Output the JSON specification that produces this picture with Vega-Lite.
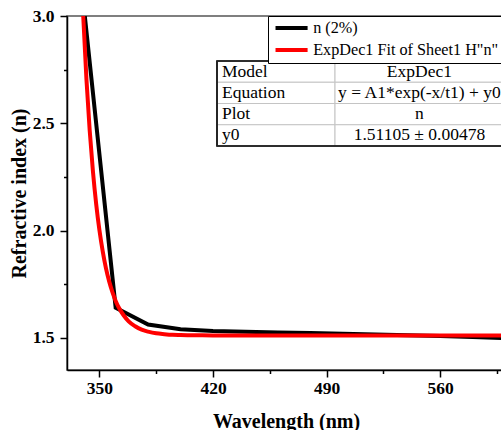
{
  "$schema": "https://vega.github.io/schema/vega-lite/v6.json",
  "width": 438,
  "height": 354,
  "autosize": {"type": "none"},
  "padding": {"left": 67, "top": 16, "right": 0, "bottom": 60},
  "background": "white",
  "datasets": {
    "measured": [
      {"wavelength": 340, "n": 3.07, "series": "n (2%)"},
      {"wavelength": 360, "n": 1.64, "series": "n (2%)"},
      {"wavelength": 380, "n": 1.562, "series": "n (2%)"},
      {"wavelength": 400, "n": 1.54, "series": "n (2%)"},
      {"wavelength": 420, "n": 1.532, "series": "n (2%)"},
      {"wavelength": 440, "n": 1.528, "series": "n (2%)"},
      {"wavelength": 460, "n": 1.525, "series": "n (2%)"},
      {"wavelength": 480, "n": 1.522, "series": "n (2%)"},
      {"wavelength": 500, "n": 1.519, "series": "n (2%)"},
      {"wavelength": 520, "n": 1.515, "series": "n (2%)"},
      {"wavelength": 540, "n": 1.512, "series": "n (2%)"},
      {"wavelength": 560, "n": 1.508, "series": "n (2%)"},
      {"wavelength": 580, "n": 1.504, "series": "n (2%)"},
      {"wavelength": 600, "n": 1.498, "series": "n (2%)"}
    ],
    "fit": [
      {"wavelength": 338, "n": 3.37, "series": "ExpDec1 Fit of Sheet1 H\"n\""},
      {"wavelength": 340, "n": 3.0, "series": "ExpDec1 Fit of Sheet1 H\"n\""},
      {"wavelength": 342, "n": 2.703, "series": "ExpDec1 Fit of Sheet1 H\"n\""},
      {"wavelength": 344, "n": 2.466, "series": "ExpDec1 Fit of Sheet1 H\"n\""},
      {"wavelength": 346, "n": 2.275, "series": "ExpDec1 Fit of Sheet1 H\"n\""},
      {"wavelength": 348, "n": 2.123, "series": "ExpDec1 Fit of Sheet1 H\"n\""},
      {"wavelength": 350, "n": 2.001, "series": "ExpDec1 Fit of Sheet1 H\"n\""},
      {"wavelength": 352, "n": 1.904, "series": "ExpDec1 Fit of Sheet1 H\"n\""},
      {"wavelength": 354, "n": 1.825, "series": "ExpDec1 Fit of Sheet1 H\"n\""},
      {"wavelength": 356, "n": 1.763, "series": "ExpDec1 Fit of Sheet1 H\"n\""},
      {"wavelength": 358, "n": 1.713, "series": "ExpDec1 Fit of Sheet1 H\"n\""},
      {"wavelength": 360, "n": 1.672, "series": "ExpDec1 Fit of Sheet1 H\"n\""},
      {"wavelength": 362, "n": 1.64, "series": "ExpDec1 Fit of Sheet1 H\"n\""},
      {"wavelength": 365, "n": 1.604, "series": "ExpDec1 Fit of Sheet1 H\"n\""},
      {"wavelength": 368, "n": 1.577, "series": "ExpDec1 Fit of Sheet1 H\"n\""},
      {"wavelength": 372, "n": 1.554, "series": "ExpDec1 Fit of Sheet1 H\"n\""},
      {"wavelength": 376, "n": 1.538, "series": "ExpDec1 Fit of Sheet1 H\"n\""},
      {"wavelength": 380, "n": 1.529, "series": "ExpDec1 Fit of Sheet1 H\"n\""},
      {"wavelength": 385, "n": 1.521, "series": "ExpDec1 Fit of Sheet1 H\"n\""},
      {"wavelength": 390, "n": 1.517, "series": "ExpDec1 Fit of Sheet1 H\"n\""},
      {"wavelength": 395, "n": 1.514, "series": "ExpDec1 Fit of Sheet1 H\"n\""},
      {"wavelength": 400, "n": 1.513, "series": "ExpDec1 Fit of Sheet1 H\"n\""},
      {"wavelength": 410, "n": 1.512, "series": "ExpDec1 Fit of Sheet1 H\"n\""},
      {"wavelength": 420, "n": 1.511, "series": "ExpDec1 Fit of Sheet1 H\"n\""},
      {"wavelength": 500, "n": 1.511, "series": "ExpDec1 Fit of Sheet1 H\"n\""},
      {"wavelength": 600, "n": 1.511, "series": "ExpDec1 Fit of Sheet1 H\"n\""}
    ],
    "table": [
      {"key": "Model", "val": "ExpDec1"},
      {"key": "Equation", "val": "y = A1*exp(-x/t1) + y0"},
      {"key": "Plot", "val": "n"},
      {"key": "y0", "val": "1.51105 ± 0.00478"}
    ]
  },
  "layer": [
    {
      "encoding": {
        "x": {
          "field": "wavelength", "type": "quantitative",
          "scale": {"domain": [330, 600], "nice": false, "zero": false},
          "axis": {
            "values": [350, 385, 420, 455, 490, 525, 560, 595],
            "labelExpr": "datum.value % 70 == 0 ? datum.label : ''",
            "tickSize": {"condition": {"test": "datum.value % 70 == 0", "value": 7}, "value": 3.5},
            "labelPadding": 2,
            "labelFlush": false,
            "labelOverlap": false,
            "title": "Wavelength (nm)",
            "titlePadding": 15
          }
        },
        "y": {
          "field": "n", "type": "quantitative",
          "scale": {"domain": [1.35, 3.0], "nice": false, "zero": false},
          "axis": {
            "values": [1.5, 1.75, 2, 2.25, 2.5, 2.75, 3],
            "labelExpr": "(datum.value * 4) % 2 == 0 ? format(datum.value, '.1f') : ''",
            "tickSize": {"condition": {"test": "(datum.value * 4) % 2 == 0", "value": 7}, "value": 3.5},
            "labelPadding": 6,
            "labelFlush": false,
            "labelOverlap": false,
            "title": "Refractive index (n)",
            "titlePadding": 3
          }
        },
        "color": {
          "field": "series", "type": "nominal",
          "scale": {"domain": ["n (2%)", "ExpDec1 Fit of Sheet1 H\"n\""], "range": ["#000000", "#ff0000"]},
          "legend": {
            "title": null,
            "orient": "none",
            "legendX": 201,
            "legendY": 0,
            "symbolType": "M-1,0H6",
            "symbolSize": 84,
            "symbolStrokeWidth": 4,
            "labelFont": "Liberation Serif",
            "labelFontSize": 16.2,
            "labelColor": "black",
            "labelOffset": 25,
            "labelLimit": 400,
            "padding": 4,
            "rowPadding": 5,
            "strokeColor": "black",
            "fillColor": "white"
          }
        }
      },
      "layer": [
        {"data": {"name": "measured"}, "mark": {"type": "line", "strokeWidth": 4, "clip": true}},
        {"data": {"name": "fit"}, "mark": {"type": "line", "strokeWidth": 4, "clip": true, "interpolate": "monotone"}}
      ]
    },
    {
      "data": {"name": "table"},
      "encoding": {
        "y": {
          "field": "key", "type": "nominal",
          "scale": {"type": "band", "domain": ["Model", "Equation", "Plot", "y0"], "range": [45, 130], "paddingInner": 0, "paddingOuter": 0},
          "axis": null
        }
      },
      "layer": [
        {
          "mark": {"type": "rect", "fill": "white", "stroke": "#c4c4c4", "strokeWidth": 1},
          "encoding": {
            "x": {"datum": 0, "type": "quantitative", "scale": {"domain": [0, 1], "range": [150, 440]}, "axis": null},
            "x2": {"datum": 0.407}
          }
        },
        {
          "mark": {"type": "rect", "fill": "white", "stroke": "#c4c4c4", "strokeWidth": 1},
          "encoding": {
            "x": {"datum": 0.407, "type": "quantitative"},
            "x2": {"datum": 1}
          }
        },
        {
          "mark": {"type": "rect", "fill": null, "fillOpacity": 0, "stroke": "#222222", "strokeWidth": 1.2},
          "encoding": {
            "x": {"datum": 0, "type": "quantitative"},
            "x2": {"datum": 1},
            "y": {"datum": "Model", "type": "nominal", "bandPosition": 0},
            "y2": {"datum": "y0", "bandPosition": 1}
          }
        },
        {
          "mark": {"type": "text", "align": "left", "baseline": "middle", "dx": 5, "font": "Liberation Serif", "fontSize": 17.5, "color": "black"},
          "encoding": {
            "x": {"datum": 0, "type": "quantitative"},
            "text": {"field": "key"}
          }
        },
        {
          "mark": {"type": "text", "align": "center", "baseline": "middle", "font": "Liberation Serif", "fontSize": 17.5, "color": "black"},
          "encoding": {
            "x": {"datum": 0.698, "type": "quantitative"},
            "text": {"field": "val"}
          }
        }
      ]
    }
  ],
  "resolve": {"scale": {"x": "independent", "y": "independent"}},
  "config": {
    "font": "Liberation Serif",
    "view": {"stroke": "#555555", "strokeWidth": 1.5},
    "axis": {
      "domainColor": "black",
      "domainWidth": 1.5,
      "tickColor": "black",
      "tickWidth": 1.5,
      "labelFont": "Liberation Serif",
      "labelFontWeight": "bold",
      "labelFontSize": 17.5,
      "labelColor": "black",
      "titleFont": "Liberation Serif",
      "titleFontWeight": "bold",
      "titleFontSize": 20,
      "titleColor": "black",
      "grid": false
    }
  }
}
